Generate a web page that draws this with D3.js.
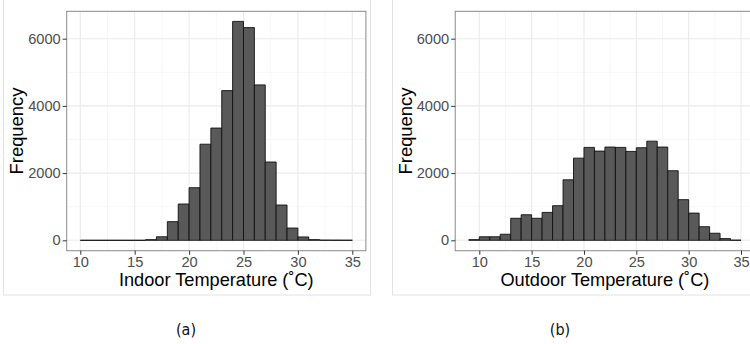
<!DOCTYPE html>
<html lang="en">
<head>
    <meta charset="utf-8">
    <title>Indoor / Outdoor Temperature</title>
    <script src="https://d3js.org/d3.v7.min.js"></script>
    <style>
        body { margin: 0; background: #fff; }
        svg { display: block; }
    </style>
</head>
<body>
<svg width="750" height="344"></svg>
<script>
    // bin starts (width 1 degC) and counts
    var indoorBins = [10,11,12,13,14,15,16,17,18,19,20,21,22,23,24,25,26,27,28,29,30,31,32,33,34];
    var indoorCounts = [0,0,0,0,0,0,20,105,555,1080,1565,2860,3340,4455,6515,6330,4625,2330,1050,365,100,20,5,3,2];

    var outdoorBins = [9,10,11,12,13,14,15,16,17,18,19,20,21,22,23,24,25,26,27,28,29,30,31,32,33,34];
    var outdoorCounts = [20,105,105,180,655,760,655,830,1030,1800,2445,2765,2655,2775,2765,2645,2755,2950,2775,2070,1210,810,405,210,50,5];

    var xTicks = [10,15,20,25,30,35];
    var xMinor = [12.5,17.5,22.5,27.5,32.5];
    var yTicks = [0,2000,4000,6000];
    var yMinor = [1000,3000,5000];

    var svg = d3.select("svg");
    var font = "'Liberation Sans', Arial, sans-serif";

    // shared y scale (both panels use the same limits)
    var y = d3.scaleLinear().domain([0,6000]).range([240.3,38.7]);
    var yLo = -310, yHi = 6815;

    function drawPanel(opt) {
        var x = d3.scaleLinear().domain([10,35]).range(opt.xRange);
        var left = x(opt.xLim[0]), right = x(opt.xLim[1]);
        var top = y(yHi), bottom = y(yLo);

        // outer light frame of the sub figure
        svg.append("rect")
            .attr("x", opt.frame[0]).attr("y", -2)
            .attr("width", opt.frame[1] - opt.frame[0]).attr("height", 297)
            .attr("fill", "none").attr("stroke", "#e2e2e2").attr("stroke-width", 1);

        var clipId = "clip" + opt.id;
        svg.append("clipPath").attr("id", clipId)
            .append("rect").attr("x", left).attr("y", top)
            .attr("width", right - left).attr("height", bottom - top);

        var g = svg.append("g").attr("clip-path", "url(#" + clipId + ")");

        // grid
        g.selectAll(".xminor").data(xMinor).enter().append("line")
            .attr("x1", d => x(d)).attr("x2", d => x(d))
            .attr("y1", top).attr("y2", bottom)
            .attr("stroke", "#f2f2f2").attr("stroke-width", 0.6);
        g.selectAll(".yminor").data(yMinor).enter().append("line")
            .attr("x1", left).attr("x2", right)
            .attr("y1", d => y(d)).attr("y2", d => y(d))
            .attr("stroke", "#f2f2f2").attr("stroke-width", 0.6);
        g.selectAll(".xmajor").data(xTicks).enter().append("line")
            .attr("x1", d => x(d)).attr("x2", d => x(d))
            .attr("y1", top).attr("y2", bottom)
            .attr("stroke", "#ebebeb").attr("stroke-width", 1.1);
        g.selectAll(".ymajor").data(yTicks).enter().append("line")
            .attr("x1", left).attr("x2", right)
            .attr("y1", d => y(d)).attr("y2", d => y(d))
            .attr("stroke", "#ebebeb").attr("stroke-width", 1.1);

        // bars as paths, so empty bins still show their outline on the baseline
        g.selectAll(".bar").data(opt.bins).enter().append("path")
            .attr("d", function(d, i) {
                var x0 = x(d), x1 = x(d + 1), y0 = y(0), y1 = y(opt.counts[i]);
                return "M" + x0 + "," + y0 + "V" + y1 + "H" + x1 + "V" + y0 + "Z";
            })
            .attr("fill", "#595959")
            .attr("stroke", "#111")
            .attr("stroke-width", 0.9);

        // panel border
        svg.append("rect")
            .attr("x", left).attr("y", top)
            .attr("width", right - left).attr("height", bottom - top)
            .attr("fill", "none").attr("stroke", "#8a8a8a").attr("stroke-width", 1);

        // axes
        var xAxis = svg.append("g")
            .attr("transform", "translate(0," + bottom + ")")
            .call(d3.axisBottom(x).tickValues(xTicks).tickSize(4).tickPadding(1.5));
        var yAxis = svg.append("g")
            .attr("transform", "translate(" + left + ",0)")
            .call(d3.axisLeft(y).tickValues(yTicks).tickSize(4).tickPadding(2).tickFormat(d3.format("d")));
        [xAxis, yAxis].forEach(function(a) {
            a.select(".domain").remove();
            a.selectAll(".tick line").attr("stroke", "#333");
            a.selectAll(".tick text")
                .attr("fill", "#4d4d4d")
                .style("font-family", font)
                .style("font-size", "14.6px");
        });

        // axis titles
        svg.append("text")
            .attr("x", (left + right) / 2).attr("y", 286)
            .attr("text-anchor", "middle")
            .style("font-family", font).style("font-size", "18.2px")
            .attr("fill", "#000")
            .text(opt.title);
        svg.append("text")
            .attr("transform", "translate(" + opt.yTitleX + "," + ((top + bottom) / 2) + ") rotate(-90)")
            .attr("text-anchor", "middle")
            .style("font-family", font).style("font-size", "18.4px")
            .attr("fill", "#000")
            .text("Frequency");

        // caption
        svg.append("text")
            .attr("x", opt.caption[0]).attr("y", 334.5)
            .attr("text-anchor", "middle")
            .style("font-family", "'Liberation Sans Narrow', 'DejaVu Sans Condensed', 'Liberation Sans', sans-serif")
            .style("font-size", "16px")
            .attr("fill", "#111")
            .text(opt.caption[1]);
    }

    drawPanel({
        id: "a",
        bins: indoorBins, counts: indoorCounts,
        xRange: [80.3, 352.3], xLim: [8.75, 36.25],
        frame: [3.5, 370.5],
        title: "Indoor Temperature (\u02DAC)",
        yTitleX: 22.5,
        caption: [186, "(a)"]
    });

    drawPanel({
        id: "b",
        bins: outdoorBins, counts: outdoorCounts,
        xRange: [479.3, 741], xLim: [7.7, 36.3],
        frame: [392.5, 760],
        title: "Outdoor Temperature (\u02DAC)",
        yTitleX: 412,
        caption: [560, "(b)"]
    });
</script>
</body>
</html>
